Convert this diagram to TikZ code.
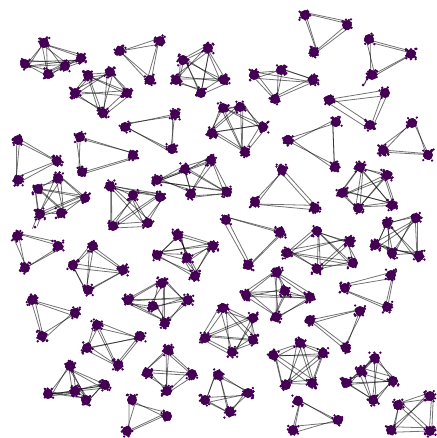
\documentclass[tikz,border=0pt]{standalone}
\usetikzlibrary{calc}
\definecolor{vpurple}{RGB}{68,1,84}
\tikzset{
  edge/.style={draw=black,opacity=0.55,line width=0.8pt},
  blob/.style={fill=vpurple}
}
\newcommand{\lnk}[2]{\foreach \k in {1,2}{\draw[edge] ($(#1)+(3.5*rand,3.5*rand)$) -- ($(#2)+(3.5*rand,3.5*rand)$);}}
\newcommand{\kthree}[1]{\lnk{#11}{#12}\lnk{#11}{#13}\lnk{#12}{#13}}
\newcommand{\kfour}[1]{\kthree{#1}\lnk{#11}{#14}\lnk{#12}{#14}\lnk{#13}{#14}}
\newcommand{\kfive}[1]{\kfour{#1}\lnk{#11}{#15}\lnk{#12}{#15}\lnk{#13}{#15}\lnk{#14}{#15}}
\newcommand{\blobat}[1]{\fill[blob] (#1) circle[radius=5pt];
  \foreach \k in {1,...,18}{\fill[blob] ($(#1)+(5.6*rand,5.6*rand)$) circle[radius=1.3pt];}}
\begin{document}
\begin{tikzpicture}[x=1pt,y=-1pt]
\pgfmathsetseed{7}
\useasboundingbox (0,0) rectangle (436,438);
% group coordinates
\coordinate (A1) at (44,43); \coordinate (A2) at (25,64); \coordinate (A3) at (48,74); \coordinate (A4) at (65,66); \coordinate (A5) at (81,58);
\coordinate (B1) at (120,51); \coordinate (B2) at (160,41); \coordinate (B3) at (150,80);
\coordinate (C1) at (183,60); \coordinate (C2) at (208,48); \coordinate (C3) at (176,80); \coordinate (C4) at (201,93); \coordinate (C5) at (224,80);
\coordinate (D1) at (88,75); \coordinate (D2) at (110,72); \coordinate (D3) at (75,93); \coordinate (D4) at (127,93); \coordinate (D5) at (103,113);
\coordinate (E1) at (125,127); \coordinate (E2) at (175,114); \coordinate (E3) at (172,149);
\coordinate (F1) at (80,137); \coordinate (F2) at (82,172); \coordinate (F3) at (133,155);
\coordinate (G1) at (18,140); \coordinate (G2) at (57,161); \coordinate (G3) at (18,180);
\coordinate (H1) at (58,178); \coordinate (H2) at (38,189); \coordinate (H3) at (85,198); \coordinate (H4) at (40,214); \coordinate (H5) at (61,213); \coordinate (H6) at (35,227);
\coordinate (I1) at (110,186); \coordinate (I2) at (133,195); \coordinate (I3) at (160,197); \coordinate (I4) at (113,226); \coordinate (I5) at (148,223);
\coordinate (J1) at (157,180); \coordinate (J2) at (185,169); \coordinate (J3) at (211,160); \coordinate (J4) at (191,194); \coordinate (J5) at (227,192);
\coordinate (K1) at (212,133); \coordinate (K2) at (223,108); \coordinate (K3) at (240,107); \coordinate (K4) at (263,127); \coordinate (K5) at (245,152);
\coordinate (L1) at (305,15); \coordinate (L2) at (347,25); \coordinate (L3) at (314,52);
\coordinate (M1) at (369,39); \coordinate (M2) at (411,54); \coordinate (M3) at (372,75); \coordinate (M4) at (363,85);
\coordinate (N1) at (254,75); \coordinate (N2) at (281,70); \coordinate (N3) at (313,80); \coordinate (N4) at (275,99);
\coordinate (O1) at (329,100); \coordinate (O2) at (385,93); \coordinate (O3) at (370,125);
\coordinate (P1) at (336,122); \coordinate (P2) at (288,140); \coordinate (P3) at (335,167);
\coordinate (Q1) at (412,123); \coordinate (Q2) at (383,150); \coordinate (Q3) at (428,155);
\coordinate (R1) at (282,170); \coordinate (R2) at (255,202); \coordinate (R3) at (315,208);
\coordinate (S1) at (360,167); \coordinate (S2) at (387,175); \coordinate (S3) at (342,193); \coordinate (S4) at (358,208); \coordinate (S5) at (392,205);
\coordinate (T1) at (17,236); \coordinate (T2) at (58,246); \coordinate (T3) at (25,268);
\coordinate (U1) at (93,246); \coordinate (U2) at (73,265); \coordinate (U3) at (123,270); \coordinate (U4) at (88,290);
\coordinate (V1) at (178,235); \coordinate (V2) at (157,255); \coordinate (V3) at (187,258); \coordinate (V4) at (213,246); \coordinate (V5) at (195,276);
\coordinate (W1) at (32,300); \coordinate (W2) at (75,313); \coordinate (W3) at (42,336);
\coordinate (X1) at (162,283); \coordinate (X2) at (128,300); \coordinate (X3) at (153,306); \coordinate (X4) at (188,300); \coordinate (X5) at (165,323);
\coordinate (Y1) at (97,325); \coordinate (Y2) at (140,336); \coordinate (Y3) at (87,348); \coordinate (Y4) at (118,365);
\coordinate (Z1) at (70,366); \coordinate (Z2) at (48,394); \coordinate (Z3) at (75,391); \coordinate (Z4) at (86,400); \coordinate (Z5) at (105,385);
\coordinate (AA1) at (168,350); \coordinate (AA2) at (147,373); \coordinate (AA3) at (192,374); \coordinate (AA4) at (167,391);
\coordinate (AB1) at (132,400); \coordinate (AB2) at (167,416); \coordinate (AB3) at (127,431);
\coordinate (BT1) at (226,220); \coordinate (BT2) at (280,232); \coordinate (BT3) at (248,265);
\coordinate (AD1) at (317,231); \coordinate (AD2) at (350,241); \coordinate (AD3) at (287,253); \coordinate (AD4) at (317,269); \coordinate (AD5) at (353,263);
\coordinate (AE1) at (387,223); \coordinate (AE2) at (416,218); \coordinate (AE3) at (375,245); \coordinate (AE4) at (392,253); \coordinate (AE5) at (419,256);
\coordinate (AF1) at (277,272); \coordinate (AF2) at (246,295); \coordinate (AF3) at (285,291); \coordinate (AF4) at (310,297); \coordinate (AF5) at (276,317);
\coordinate (AG1) at (391,275); \coordinate (AG2) at (345,288); \coordinate (AG3) at (387,307);
\coordinate (AH1) at (223,308); \coordinate (AH2) at (253,318); \coordinate (AH3) at (253,340); \coordinate (AH4) at (232,352); \coordinate (AH5) at (205,338);
\coordinate (AI1) at (310,320); \coordinate (AI2) at (360,311); \coordinate (AI3) at (346,348);
\coordinate (AJ1) at (273,355); \coordinate (AJ2) at (300,343); \coordinate (AJ3) at (323,353); \coordinate (AJ4) at (286,385); \coordinate (AJ5) at (312,383);
\coordinate (AK1) at (375,358); \coordinate (AK2) at (361,371); \coordinate (AK3) at (346,383); \coordinate (AK4) at (393,381); \coordinate (AK5) at (373,400);
\coordinate (AL1) at (218,375); \coordinate (AL2) at (248,393); \coordinate (AL3) at (205,400); \coordinate (AL4) at (230,412);
\coordinate (AM1) at (298,401); \coordinate (AM2) at (338,420); \coordinate (AM3) at (293,430);
\coordinate (AN1) at (398,405); \coordinate (AN2) at (430,396); \coordinate (AN3) at (391,430); \coordinate (AN4) at (430,431);
% edges
\kfive{A} \kthree{B} \kfive{C} \kfive{D} \kthree{E} \kthree{F} \kthree{G}
\kfive{H} \lnk{H4}{H6}
\kfive{I} \kfive{J} \kfive{K} \kthree{L}
\kthree{M} \lnk{M3}{M4}
\kfour{N} \kthree{O} \kthree{P} \kthree{Q} \kthree{R} \kfive{S}
\kthree{T} \kfour{U} \kfive{V} \kthree{W} \kfive{X} \kfour{Y} \kfive{Z}
\kfour{AA} \kthree{AB} \kthree{BT} \kfive{AD} \kfive{AE} \kfive{AF} \kthree{AG}
\kfive{AH} \kthree{AI} \kfive{AJ} \kfive{AK} \kfour{AL} \kthree{AM} \kfour{AN}
% blobs
\foreach \g in {A,C,D,H,I,J,K,S,V,X,Z,AD,AE,AF,AH,AJ,AK}{\foreach \i in {1,...,5}{\blobat{\g\i}}}
\foreach \g in {N,U,Y,AA,AL,AN}{\foreach \i in {1,...,4}{\blobat{\g\i}}}
\foreach \g in {B,E,F,G,L,M,O,P,Q,R,T,W,AB,BT,AG,AI,AM}{\foreach \i in {1,...,3}{\blobat{\g\i}}}
\fill[blob] (H6) circle[radius=1.5pt];
\fill[blob] (M4) circle[radius=1.5pt];
\end{tikzpicture}
\end{document}
